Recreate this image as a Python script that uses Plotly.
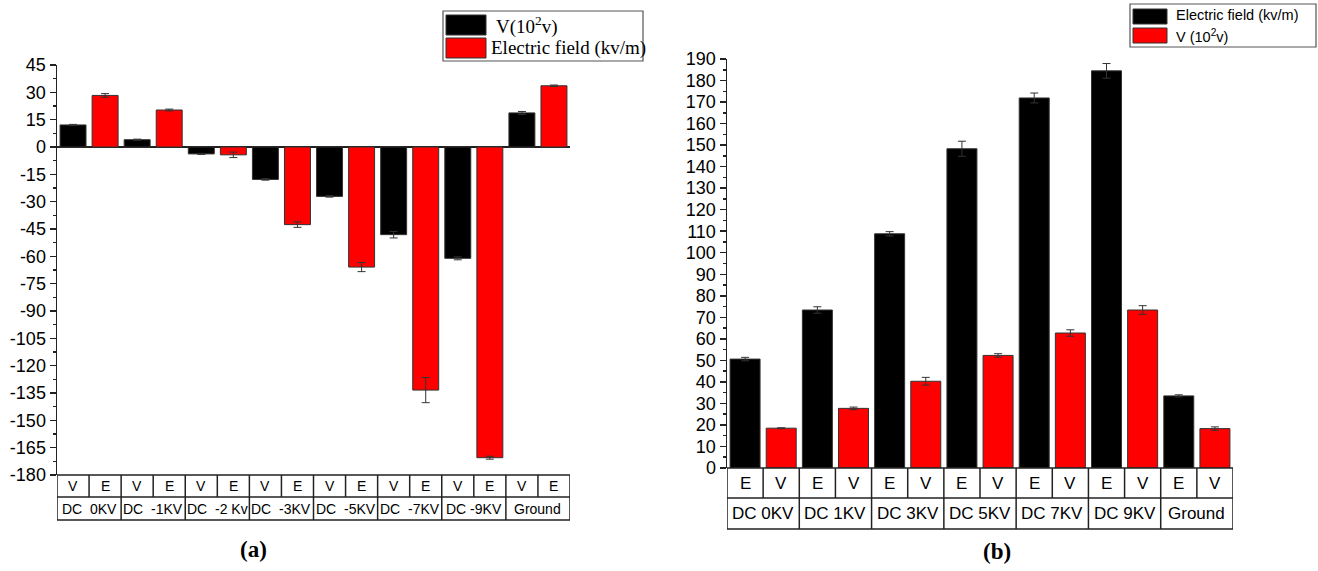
import plotly.graph_objects as go

W, H = 1318, 571

# ---------------- data ----------------
a_groups = ["DC\u00a0\u00a00KV", "DC\u00a0\u00a0-1KV", "DC\u00a0\u00a0-2 Kv", "DC\u00a0\u00a0-3KV",
            "DC\u00a0\u00a0-5KV", "DC\u00a0\u00a0-7KV", "DC -9KV", "Ground"]
a_sub = ["V", "E"]
a_V = [12.1, 4.0, -3.8, -17.8, -27.1, -48.1, -61.1, 18.7]
a_V_err = [0.3, 0.3, 0.3, 0.4, 0.4, 1.8, 0.8, 0.8]
a_E = [28.3, 20.3, -4.3, -42.6, -65.9, -133.4, -170.5, 33.6]
a_E_err = [1.0, 0.5, 1.5, 1.5, 2.5, 6.9, 0.8, 0.4]
a_ticks = [45, 30, 15, 0, -15, -30, -45, -60, -75, -90, -105, -120, -135, -150, -165, -180]

b_groups = ["DC 0KV", "DC 1KV", "DC 3KV", "DC 5KV", "DC 7KV", "DC 9KV", "Ground"]
b_sub = ["E", "V"]
b_E = [50.6, 73.4, 108.8, 148.3, 171.9, 184.5, 33.5]
b_E_err = [0.8, 1.5, 1.0, 3.5, 2.3, 3.4, 0.5]
b_V = [18.5, 27.7, 40.3, 52.3, 62.7, 73.4, 18.3]
b_V_err = [0.2, 0.6, 1.8, 0.8, 1.5, 2.0, 0.8]
b_ticks = list(range(0, 191, 10))

a_legend = ["V(10<sup>2</sup>v)", "Electric field (kv/m)"]
b_legend = ["Electric field (kv/m)", "V (10<sup>2</sup>v)"]
panel_labels = ["<b>(a)</b>", "<b>(b)</b>"]

# ---------------- helpers (target pixel -> paper) ----------------
def px(x):
    return x / W

def py(y):
    return 1 - y / H

LINE = "#222222"
BLACK = "#000000"
RED = "#FF0000"

fig = go.Figure()

def bar(xs, ys, errs, color, width, xa, ya):
    return go.Bar(
        x=xs, y=ys, width=width, xaxis=xa, yaxis=ya, showlegend=False,
        marker=dict(color=color, line=dict(color="#333333", width=1)),
        error_y=dict(type="data", array=errs, color="#333333", thickness=1, width=4),
    )

na = len(a_groups)
fig.add_trace(bar([2 * i for i in range(na)], a_V, a_V_err, BLACK, 0.81, "x", "y"))
fig.add_trace(bar([2 * i + 1 for i in range(na)], a_E, a_E_err, RED, 0.81, "x", "y"))

nb = len(b_groups)
fig.add_trace(bar([2 * i for i in range(nb)], b_E, b_E_err, BLACK, 0.83, "x2", "y2"))
fig.add_trace(bar([2 * i + 1 for i in range(nb)], b_V, b_V_err, RED, 0.83, "x2", "y2"))

def yax(domain, rng, ticks, minor_dt, anchor, zeroline, fsize):
    return dict(
        domain=domain, range=rng, anchor=anchor,
        tickmode="array", tickvals=ticks, ticktext=[str(t) for t in ticks],
        ticks="outside", ticklen=6, tickwidth=1.5, tickcolor=LINE,
        showline=True, linecolor=LINE, linewidth=1.5, showgrid=False,
        zeroline=zeroline, zerolinecolor=LINE, zerolinewidth=1.5,
        minor=dict(tickmode="linear", tick0=0, dtick=minor_dt, ticks="outside",
                   ticklen=3, tickwidth=1.5, tickcolor=LINE),
        tickfont=dict(family="Arial, Liberation Sans", size=fsize, color="black"),
        automargin=False, fixedrange=True,
    )

def xax(domain, rng, anchor):
    return dict(domain=domain, range=rng, anchor=anchor, showline=False,
                showticklabels=False, ticks="", showgrid=False, zeroline=False,
                automargin=False, fixedrange=True)

# panel geometry (target pixels)
A_L, A_R, A_T, A_B = 57, 570, 65, 475
B_L, B_R, B_T, B_B = 727, 1233, 59, 468

fig.update_layout(
    width=W, height=H, margin=dict(l=0, r=0, t=0, b=0, autoexpand=False),
    paper_bgcolor="white", plot_bgcolor="white", showlegend=False,
    bargap=0,
    xaxis=xax([px(A_L), px(A_R)], [-0.5, 2 * na - 0.5], "y"),
    yaxis=yax([py(A_B), py(A_T)], [-180, 45], a_ticks, 7.5, "x", True, 18),
    xaxis2=xax([px(B_L), px(B_R)], [-0.5, 2 * nb - 0.5], "y2"),
    yaxis2=yax([py(B_B), py(B_T)], [0, 190], b_ticks, 5, "x2", False, 18),
)

shapes = []
annotations = []

def table(xref, n_groups, sub, groups, y0, y1, y2, fsize):
    ln = dict(color=LINE, width=1.5)
    ncell = 2 * n_groups
    shapes.append(dict(type="rect", xref=xref, yref="paper", x0=-0.5, x1=ncell - 0.5,
                       y0=py(y2), y1=py(y0), line=ln, fillcolor="rgba(0,0,0,0)"))
    shapes.append(dict(type="line", xref=xref, yref="paper", x0=-0.5, x1=ncell - 0.5,
                       y0=py(y1), y1=py(y1), line=ln))
    for k in range(1, ncell):
        shapes.append(dict(type="line", xref=xref, yref="paper", x0=k - 0.5, x1=k - 0.5,
                           y0=py(y1), y1=py(y0), line=ln))
    for g in range(1, n_groups):
        shapes.append(dict(type="line", xref=xref, yref="paper", x0=2 * g - 0.5, x1=2 * g - 0.5,
                           y0=py(y2), y1=py(y1), line=ln))
    f = dict(family="Arial, Liberation Sans", size=fsize, color="black")
    for g in range(n_groups):
        for s in range(2):
            annotations.append(dict(xref=xref, yref="paper", x=2 * g + s, y=py((y0 + y1) / 2),
                                    text=sub[s], showarrow=False, font=f,
                                    xanchor="center", yanchor="middle"))
        annotations.append(dict(xref=xref, yref="paper", x=2 * g + 0.5, y=py((y1 + y2) / 2),
                                text=groups[g], showarrow=False, font=f,
                                xanchor="center", yanchor="middle"))

table("x", na, a_sub, a_groups, 475, 497, 520, 14)
table("x2", nb, b_sub, b_groups, 468, 498, 529, 17)

def legend(box, sw1, sw2, tx, texts, font):
    x0, y0, x1, y1 = box
    shapes.append(dict(type="rect", xref="paper", yref="paper", x0=px(x0), x1=px(x1),
                       y0=py(y1), y1=py(y0), line=dict(color="#555555", width=1.2),
                       fillcolor="white"))
    for (sx0, sy0, sx1, sy1), col in zip([sw1, sw2], [BLACK, RED]):
        shapes.append(dict(type="rect", xref="paper", yref="paper", x0=px(sx0), x1=px(sx1),
                           y0=py(sy1), y1=py(sy0), line=dict(color="#333333", width=1),
                           fillcolor=col))
    for (tx_, ty_), t in zip(tx, texts):
        annotations.append(dict(xref="paper", yref="paper", x=px(tx_), y=py(ty_), text=t,
                                showarrow=False, font=font, xanchor="left", yanchor="middle"))

legend((443, 11, 643, 61), (446, 15, 486, 35), (446, 38, 486, 58),
       [(494, 25), (489, 48)], a_legend,
       dict(family="Liberation Serif, Times New Roman, serif", size=19, color="black"))
legend((1130, 4, 1316, 47), (1133, 9, 1167, 24), (1133, 28, 1167, 43),
       [(1174, 15), (1174, 36)], b_legend,
       dict(family="Arial, Liberation Sans", size=14.5, color="black"))

for (lx, ly), t in zip([(253, 549), (997, 551)], panel_labels):
    annotations.append(dict(xref="paper", yref="paper", x=px(lx), y=py(ly), text=t,
                            showarrow=False, xanchor="center", yanchor="middle",
                            font=dict(family="Liberation Serif, Times New Roman, serif",
                                      size=23, color="black")))

fig.update_layout(shapes=shapes, annotations=annotations)
fig.write_html(
    "out.html",
    config={"displayModeBar": False, "staticPlot": True},
    post_script="document.body.style.margin='0';document.body.style.overflow='hidden';",
)
